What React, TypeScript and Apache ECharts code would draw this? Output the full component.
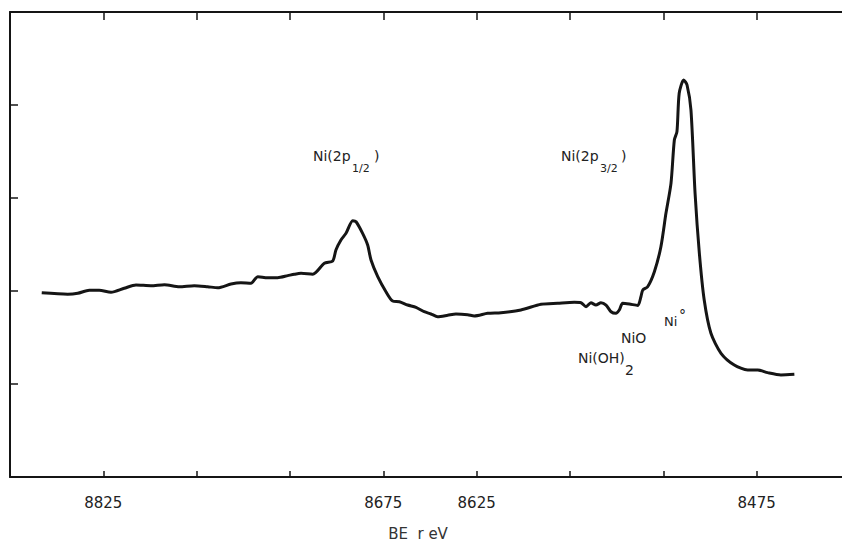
import React, { useEffect, useRef } from "react";
import * as echarts from "echarts";

// Binding energy (eV), left to right (decreasing BE)
const bindingEnergy: number[] = [
  8858.0, 8844.1, 8838.7, 8832.5, 8827.2, 8820.9, 8813.8, 8807.5, 8799.5, 8792.3,
  8784.3, 8776.3, 8769.1, 8763.7, 8756.6, 8751.3, 8745.9, 8742.3, 8737.0, 8731.6,
  8726.2, 8722.7, 8719.1, 8712.8, 8706.6, 8702.1, 8700.4, 8697.7, 8695.0, 8691.4,
  8689.6, 8686.1, 8683.4, 8681.6, 8678.0, 8673.6, 8670.0, 8666.4, 8662.0, 8657.5,
  8653.1, 8649.5, 8645.9, 8640.5, 8636.1, 8629.8, 8626.3, 8619.1, 8612.0, 8601.3,
  8590.5, 8581.6, 8572.7, 8569.1, 8566.4, 8563.8, 8561.1, 8558.4, 8555.7, 8553.0,
  8550.4, 8548.6, 8546.8, 8543.2, 8538.7, 8537.0, 8536.0, 8533.4, 8529.8, 8526.3,
  8523.6, 8520.9, 8519.1, 8517.7, 8516.5, 8514.1, 8512.3, 8510.2, 8508.0, 8505.7,
  8503.1, 8499.5, 8494.1, 8487.0, 8479.8, 8474.4, 8469.1, 8462.0, 8454.8,
];

// Intensity (arbitrary units, axis 0..5)
const intensity: number[] = [
  1.98, 1.965, 1.975, 2.008, 2.008, 1.986, 2.029, 2.065, 2.057, 2.068,
  2.046, 2.057, 2.046, 2.035, 2.075, 2.089, 2.083, 2.154, 2.143, 2.143,
  2.165, 2.18, 2.19, 2.18, 2.298, 2.323, 2.441, 2.548, 2.62, 2.756,
  2.745, 2.62, 2.495, 2.333, 2.154, 1.992, 1.892, 1.885, 1.849, 1.825,
  1.777, 1.753, 1.724, 1.739, 1.753, 1.745, 1.731, 1.76, 1.767, 1.796,
  1.857, 1.868, 1.878, 1.874, 1.831, 1.874, 1.849, 1.874, 1.849, 1.777,
  1.76, 1.796, 1.868, 1.86, 1.845, 1.939, 2.011, 2.046, 2.208, 2.476,
  2.835, 3.158, 3.624, 3.713, 4.126, 4.269, 4.215, 3.946, 3.051, 2.405,
  1.903, 1.545, 1.33, 1.204, 1.151, 1.151, 1.122, 1.097, 1.104,
];

const xTickLabels: number[] = [8825, 8675, 8625, 8475];

export default function App() {
  const ref = useRef<HTMLDivElement>(null);

  useEffect(() => {
    if (!ref.current) return;
    const chart = echarts.init(ref.current, null, { renderer: "svg" });
    const data = bindingEnergy.map((be, i) => [be, intensity[i]]);
    const ink = "#151515";
    const font = "DejaVu Sans";
    const txt = "#222";

    chart.setOption({
      animation: false,
      grid: { left: 10, top: 12, width: 840, height: 465, outerBoundsMode: "none" },
      xAxis: [
        {
          type: "value",
          inverse: true,
          min: 8425,
          max: 8875,
          interval: 50,
          splitLine: { show: false },
          axisLine: { onZero: false, lineStyle: { color: ink, width: 2 } },
          axisTick: { inside: true, length: 6, lineStyle: { color: ink, width: 1.5 } },
          name: "BE  r eV",
          nameLocation: "middle",
          nameGap: 49,
          nameTextStyle: { color: "#333", fontFamily: font, fontSize: 15, padding: [0, 24, 0, 0] },
          axisLabel: {
            margin: 18,
            color: txt,
            fontFamily: font,
            fontSize: 15,
            formatter: (v: number) => (xTickLabels.includes(v) ? String(v) : ""),
          },
        },
        {
          type: "value",
          position: "top",
          inverse: true,
          min: 8425,
          max: 8875,
          interval: 50,
          splitLine: { show: false },
          axisLine: { onZero: false, lineStyle: { color: ink, width: 2 } },
          axisTick: { inside: true, length: 8, lineStyle: { color: ink, width: 1.5 } },
          axisLabel: { show: false },
        },
      ],
      yAxis: {
        type: "value",
        min: 0,
        max: 5,
        interval: 1,
        splitLine: { show: false },
        axisLine: { show: true, onZero: false, lineStyle: { color: ink, width: 2 } },
        axisTick: { show: true, inside: true, length: 8, lineStyle: { color: ink, width: 1.5 } },
        axisLabel: { show: false },
      },
      series: [
        {
          type: "line",
          xAxisIndex: 0,
          data,
          showSymbol: false,
          smooth: 0.25,
          lineStyle: { color: ink, width: 3 },
        },
      ],
      graphic: [
        { type: "text", left: 313, top: 149, style: { text: "Ni(2p", fill: txt, font: `14px "${font}"` } },
        { type: "text", left: 352, top: 163, style: { text: "1/2", fill: txt, font: `11px "${font}"` } },
        { type: "text", left: 374, top: 149, style: { text: ")", fill: txt, font: `14px "${font}"` } },

        { type: "text", left: 561, top: 149, style: { text: "Ni(2p", fill: txt, font: `14px "${font}"` } },
        { type: "text", left: 600, top: 163, style: { text: "3/2", fill: txt, font: `11px "${font}"` } },
        { type: "text", left: 621, top: 149, style: { text: ")", fill: txt, font: `14px "${font}"` } },

        { type: "text", left: 621, top: 331, style: { text: "NiO", fill: txt, font: `14px "${font}"` } },

        { type: "text", left: 578, top: 351, style: { text: "Ni(OH)", fill: txt, font: `14px "${font}"` } },
        { type: "text", left: 625, top: 363, style: { text: "2", fill: txt, font: `14px "${font}"` } },

        { type: "text", left: 664, top: 315, style: { text: "Ni", fill: txt, font: `13px "${font}"` } },
        { type: "text", left: 679, top: 308, style: { text: "°", fill: txt, font: `14px "${font}"` } },
      ],
    });

    return () => chart.dispose();
  }, []);

  return <div ref={ref} style={{ position: "absolute", left: 0, top: 0, width: 842, height: 544 }} />;
}
